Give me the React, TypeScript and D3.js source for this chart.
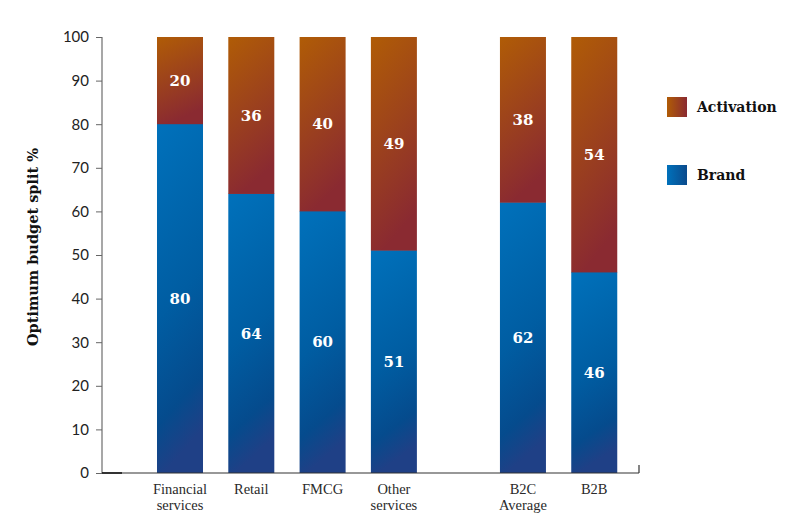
import React, { useEffect, useRef } from "react";
import * as d3 from "d3";

// categories and their group (a wider gap sits between the groups)
const categories = ["Financial services", "Retail", "FMCG", "Other services", "B2C Average", "B2B"];
const categoryLines = [["Financial", "services"], ["Retail"], ["FMCG"], ["Other", "services"], ["B2C", "Average"], ["B2B"]];
const groups = [0, 0, 0, 0, 1, 1];
const brand = [80, 64, 60, 51, 62, 46];
const activation = [20, 36, 40, 49, 38, 54];
const yTicks = [0, 10, 20, 30, 40, 50, 60, 70, 80, 90, 100];

const App: React.FC = () => {
  const svgRef = useRef<SVGSVGElement>(null);

  useEffect(() => {
    if (!svgRef.current) return;
    const width = 785;
    const height = 519;
    const svg = d3.select(svgRef.current);
    svg.selectAll("*").remove();
    svg.attr("width", width).attr("height", height).attr("viewBox", `0 0 ${width} ${height}`);

    const left = 102;
    const top = 37;
    const bottom = 473;
    const right = 639;
    const barW = 46;
    const groupGap = 0.81; // extra slots between the two groups

    const y = d3.scaleLinear().domain([0, 100]).range([bottom, top]);
    const slot = (i: number) => i + groups[i] * groupGap;
    const x = d3.scaleLinear().domain([0, 1]).range([180, 251.3]);

    const defs = svg.append("defs");
    const act = defs.append("linearGradient").attr("id", "gAct")
      .attr("x1", "0").attr("y1", "0").attr("x2", "0.25").attr("y2", "1");
    act.append("stop").attr("offset", "0%").attr("stop-color", "#b05c06");
    act.append("stop").attr("offset", "100%").attr("stop-color", "#8a2a31");
    const br = defs.append("linearGradient").attr("id", "gBrand")
      .attr("x1", "0").attr("y1", "0").attr("x2", "0.15").attr("y2", "1");
    br.append("stop").attr("offset", "0%").attr("stop-color", "#0071bb");
    br.append("stop").attr("offset", "55%").attr("stop-color", "#005da2");
    br.append("stop").attr("offset", "85%").attr("stop-color", "#054b8d");
    br.append("stop").attr("offset", "100%").attr("stop-color", "#1f4086");
    const la = defs.append("linearGradient").attr("id", "lAct");
    la.append("stop").attr("offset", "0%").attr("stop-color", "#b05c06");
    la.append("stop").attr("offset", "100%").attr("stop-color", "#8a2a31");
    const lb = defs.append("linearGradient").attr("id", "lBrand");
    lb.append("stop").attr("offset", "0%").attr("stop-color", "#0071bb");
    lb.append("stop").attr("offset", "100%").attr("stop-color", "#0b4a8c");

    const valueFont = "'DejaVu Serif', serif";
    const g = svg.append("g");

    categories.forEach((c, i) => {
      const cx = x(slot(i));
      g.append("rect").attr("x", cx - barW / 2).attr("width", barW)
        .attr("y", y(brand[i]) - 0.5).attr("height", y(0) - y(brand[i]) + 0.5)
        .attr("fill", "url(#gBrand)");
      g.append("rect").attr("x", cx - barW / 2).attr("width", barW)
        .attr("y", y(brand[i] + activation[i])).attr("height", y(brand[i]) - y(brand[i] + activation[i]))
        .attr("fill", "url(#gAct)");
      g.append("text").attr("x", cx).attr("y", y(brand[i] / 2)).attr("dy", "0.35em")
        .attr("text-anchor", "middle").attr("fill", "#fff").attr("font-family", valueFont)
        .attr("font-weight", "bold").attr("font-size", 15).text(brand[i]);
      g.append("text").attr("x", cx).attr("y", y(brand[i] + activation[i] / 2)).attr("dy", "0.35em")
        .attr("text-anchor", "middle").attr("fill", "#fff").attr("font-family", valueFont)
        .attr("font-weight", "bold").attr("font-size", 15).text(activation[i]);
      const t = g.append("text").attr("x", cx).attr("y", 494).attr("text-anchor", "middle")
        .attr("font-family", "'Liberation Serif', serif").attr("font-size", 14.5).attr("fill", "#2a2a2a");
      categoryLines[i].forEach((line, k) => {
        t.append("tspan").attr("x", cx).attr("dy", k === 0 ? 0 : 16).text(line);
      });
    });

    // y axis
    const yAxis = svg.append("g").attr("transform", `translate(${left},0)`)
      .call(d3.axisLeft(y).tickValues(yTicks).tickSize(6).tickPadding(7));
    yAxis.select(".domain").attr("stroke", "#8a8a8a").attr("stroke-width", 1.5)
      .attr("d", `M0,${top}V${bottom}`);
    yAxis.selectAll(".tick line").attr("stroke", "#666");
    yAxis.selectAll(".tick text").attr("font-family", "Lato, sans-serif")
      .attr("font-size", 15).attr("fill", "#222");

    // baseline
    svg.append("line").attr("x1", left).attr("x2", right).attr("y1", bottom).attr("y2", bottom)
      .attr("stroke", "#333").attr("stroke-width", 1.2);
    svg.append("line").attr("x1", left).attr("x2", left + 20).attr("y1", bottom).attr("y2", bottom)
      .attr("stroke", "#111").attr("stroke-width", 1.5);
    svg.append("line").attr("x1", right).attr("x2", right).attr("y1", bottom).attr("y2", bottom - 8)
      .attr("stroke", "#333").attr("stroke-width", 1.2);

    // axis title
    svg.append("text").attr("transform", `translate(38,${y(50) - 8}) rotate(-90)`)
      .attr("text-anchor", "middle").attr("font-family", valueFont).attr("font-weight", "bold")
      .attr("font-size", 14.5).attr("fill", "#111").text("Optimum budget split %");

    // legend
    const legend = [
      { name: "Activation", fill: "url(#lAct)", y: 97 },
      { name: "Brand", fill: "url(#lBrand)", y: 165 },
    ];
    legend.forEach((l) => {
      svg.append("rect").attr("x", 667).attr("y", l.y).attr("width", 20).attr("height", 20).attr("fill", l.fill);
      svg.append("text").attr("x", 697).attr("y", l.y + 10).attr("dy", "0.35em")
        .attr("font-family", valueFont).attr("font-weight", "bold").attr("font-size", 14)
        .attr("fill", "#111").text(l.name);
    });
  }, []);

  return <svg ref={svgRef} style={{ position: "absolute", left: 0, top: 0 }} />;
};

export default App;
